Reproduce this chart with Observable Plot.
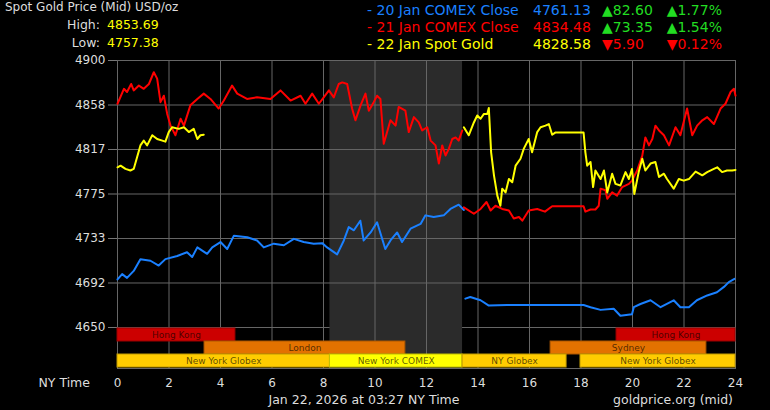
<!DOCTYPE html>
<html><head><meta charset="utf-8">
<script src="https://cdn.jsdelivr.net/npm/d3@7"></script>
<script src="https://cdn.jsdelivr.net/npm/@observablehq/plot@0.6"></script>
<style>
html,body{margin:0;padding:0;background:#000;}
#wrap{position:relative;width:770px;height:410px;background:#000;overflow:hidden;font-family:"DejaVu Sans",sans-serif;color:#ddd;font-size:12px;}
.t{position:absolute;white-space:nowrap;line-height:16px;height:16px;}
#wrap svg{position:absolute;left:0;}
</style></head><body><div id="wrap"></div>
<script>
// ---------- data ----------
const title = "Spot Gold Price (Mid) USD/oz";
const highLowLabels = ["High:", "Low:"];
const highLowValues = ["4853.69", "4757.38"];
const legendLabels = ["- 20 Jan COMEX Close", "- 21 Jan COMEX Close", "- 22 Jan Spot Gold"];
const legendPrices = ["4761.13", "4834.48", "4828.58"];
const legendChanges = ["▲82.60", "▲73.35", "▼5.90"];
const legendPercents = ["▲1.77%", "▲1.54%", "▼0.12%"];
const footerDate = "Jan 22, 2026 at 03:27 NY Time";
const footerSource = "goldprice.org (mid)";
const xAxisTitle = "NY Time";

const xTicks = [0, 2, 4, 6, 8, 10, 12, 14, 16, 18, 20, 22, 24];
const yTicks = [4650, 4691.67, 4733.33, 4775, 4816.67, 4858.33, 4900];
const yTickLabels = ["4650", "4692", "4733", "4775", "4817", "4858", "4900"];

// [NY hour, price]
const jan20Before = [[0,4695],[0.18,4700],[0.37,4696.5],[0.63,4703],[0.89,4714],[1.28,4712.5],[1.6,4708],[1.86,4714],[2.32,4717],[2.7,4720.5],[2.9,4716],[3.1,4725],[3.48,4719],[3.68,4725],[4.0,4730],[4.26,4723.5],[4.52,4736],[5.04,4734.5],[5.42,4731.5],[5.68,4725],[6.07,4728.5],[6.46,4727],[6.85,4733],[7.23,4730],[7.62,4728.5],[7.95,4729],[8.14,4725],[8.53,4718.5],[8.79,4731.5],[8.98,4744],[9.18,4741],[9.43,4750],[9.56,4731.5],[9.83,4739],[10.08,4748.5],[10.4,4723.5],[10.6,4731.5],[10.86,4739],[11.05,4730],[11.38,4742.5],[11.77,4747],[11.96,4755],[12.28,4753.5],[12.67,4755],[12.93,4761],[13.25,4765],[13.45,4760]];
const jan20After = [[13.51,4677],[13.7,4678.5],[14.1,4675.5],[14.42,4670.5],[15.13,4671],[18.1,4671],[18.37,4669],[18.76,4666.5],[19.27,4667.5],[19.53,4661],[19.98,4662.5],[20.05,4669],[20.31,4672],[20.7,4675.5],[21.09,4669],[21.6,4675.5],[21.86,4669],[22.19,4669],[22.5,4675.5],[22.9,4680],[23.28,4683],[23.55,4688],[23.74,4692.5],[23.96,4695.5]];
const jan21Before = [[0,4859.5],[0.25,4873.5],[0.37,4870.5],[0.53,4878],[0.63,4872],[0.83,4876.5],[1.02,4873.5],[1.22,4878],[1.41,4889],[1.54,4883],[1.67,4861],[1.8,4867],[1.93,4850],[2.06,4839],[2.25,4830],[2.45,4845.5],[2.58,4839],[2.83,4858],[3.1,4864],[3.35,4869],[3.61,4864],[3.93,4855],[4.13,4862.5],[4.45,4876.5],[4.65,4869],[5.03,4864],[5.42,4865.5],[5.94,4864],[6.33,4872],[6.72,4862.5],[7.11,4867],[7.3,4859.5],[7.56,4869],[7.82,4859.5],[8.01,4865.5],[8.21,4872],[8.4,4865.5],[8.59,4878],[8.73,4879.5],[8.92,4878],[9.11,4855],[9.24,4844],[9.44,4858],[9.63,4869],[9.76,4853],[9.95,4861],[10.08,4867],[10.21,4864],[10.34,4822],[10.6,4844],[10.8,4839],[10.92,4856.5],[11.18,4853],[11.31,4833],[11.51,4847],[11.7,4842],[11.83,4834.5],[12.03,4837.5],[12.16,4825],[12.35,4820.5],[12.48,4803.5],[12.61,4820.5],[12.74,4811],[12.87,4817.5],[13.0,4826.5],[13.13,4828],[13.25,4825],[13.39,4834.5]];
const jan21After = [[13.45,4762.5],[13.84,4756.5],[14.1,4761],[14.33,4767.5],[14.49,4759.5],[14.68,4764],[14.94,4761],[15.2,4759.5],[15.39,4752],[15.59,4753.5],[15.72,4750],[15.97,4759.5],[16.3,4761],[16.6,4758.5],[16.88,4763.5],[18.1,4763.5],[18.17,4758.5],[18.37,4760.5],[18.56,4760.5],[18.69,4764],[18.76,4780],[18.95,4778.5],[19.02,4770.5],[19.21,4776.5],[19.4,4773.5],[19.6,4781.5],[19.86,4784.5],[19.98,4787.5],[20.18,4797],[20.38,4811],[20.5,4828],[20.64,4820.5],[20.77,4826.5],[20.89,4839],[21.03,4834.5],[21.22,4830],[21.42,4820.5],[21.67,4837.5],[21.86,4830],[22.12,4855],[22.32,4830],[22.51,4839],[22.71,4844],[22.9,4847],[23.16,4840.5],[23.42,4855],[23.61,4859.5],[23.81,4870.5],[23.94,4873.5],[24,4867]];
const jan22Spot = [[0,4800],[0.12,4801.5],[0.31,4798.5],[0.5,4797],[0.63,4798.5],[0.76,4809.5],[0.89,4820.5],[1.02,4825],[1.15,4820.5],[1.35,4830],[1.54,4826.5],[1.74,4825],[1.86,4824],[1.99,4833],[2.12,4837.5],[2.38,4836],[2.58,4837.5],[2.77,4833],[2.96,4836],[3.1,4826.5],[3.22,4830],[3.35,4830.5]];
const jan21Spot = [[13.45,4837.5],[13.64,4830],[13.84,4842],[13.97,4848.5],[14.1,4845.5],[14.23,4850],[14.36,4850],[14.42,4855.5],[14.51,4814],[14.62,4792.5],[14.75,4773.5],[14.87,4764],[14.94,4780],[15.07,4776.5],[15.2,4789],[15.33,4786],[15.46,4801.5],[15.65,4808],[15.78,4817.5],[15.97,4826.5],[16.1,4814],[16.3,4833],[16.43,4837.5],[16.62,4839],[16.75,4840.5],[16.88,4830.5],[17.0,4832.5],[18.1,4832.5],[18.17,4814],[18.24,4801.5],[18.37,4805],[18.47,4781.5],[18.56,4797],[18.76,4789],[18.89,4797],[19.02,4776.5],[19.21,4794],[19.34,4784.5],[19.53,4783],[19.73,4795.5],[19.86,4789],[19.98,4798.5],[20.07,4775],[20.24,4795.5],[20.38,4808],[20.5,4797],[20.7,4803.5],[20.89,4805],[21.03,4791],[21.22,4794],[21.34,4789],[21.6,4780],[21.8,4789],[21.99,4787.5],[22.19,4789],[22.45,4796],[22.71,4792.5],[22.9,4795.5],[23.16,4798.5],[23.29,4800],[23.48,4795.5],[23.67,4797],[23.87,4797],[24,4797.5]];

// trading sessions (NY hours)
const sessionNames  = ["Hong Kong","Hong Kong","London","Sydney","New York Globex","New York COMEX","NY Globex","New York Globex"];
const sessionRows   = ["Asia","Asia","Europe/Pacific","Europe/Pacific","America","America","America","America"];
const sessionStarts = [0, 19.38, 3.38, 16.82, 0, 8.25, 13.4, 17.98];
const sessionEnds   = [4.58, 24, 11.18, 22.87, 8.25, 13.4, 17.44, 24];
const sessionRowOrder = ["Asia","Europe/Pacific","America"];
const comexSession = [{start: 8.25, end: 13.4}];

// ---------- styles ----------
const BLUE = "#1a80ff", RED = "#ff0000", YELLOW = "#ffff00", GREEN = "#22dd22", TXT = "#dddddd";
const sessionColors = {"Hong Kong":"#cc0000","London":"#e37200","Sydney":"#e37200","New York Globex":"#ffcc00","NY Globex":"#ffcc00","New York COMEX":"#ffff00"};
const FONT = '"DejaVu Sans",sans-serif';

// ---------- build ----------
const series = [
  {data: jan20Before, color: BLUE}, {data: jan20After, color: BLUE},
  {data: jan21Before, color: RED}, {data: jan21After, color: RED},
  {data: jan21Spot, color: YELLOW}, {data: jan22Spot, color: YELLOW}
];
const points = series.flatMap((s, k) => s.data.map(([h, p]) => ({hour: h, price: p, seg: k, color: s.color})));
const sessions = sessionNames.map((n, i) => ({
  name: n, row: sessionRows[i], start: sessionStarts[i], end: sessionEnds[i],
  fill: sessionColors[n], edge: d3.color(sessionColors[n]).darker(0.8).formatHex()
}));

const wrap = document.getElementById("wrap");

const main = Plot.plot({
  width: 770, height: 340,
  marginTop: 60, marginBottom: 13, marginLeft: 117, marginRight: 35,
  style: {background: "transparent", color: TXT, fontSize: "12px", fontFamily: FONT},
  x: {domain: [0, 24], axis: null},
  y: {domain: [4650, 4900], axis: null},
  marks: [
    Plot.rect(comexSession, {x1: "start", x2: "end", fill: "#2b2b2b"}),
    Plot.gridX(xTicks, {stroke: "#666", strokeOpacity: 1}),
    Plot.gridY(yTicks, {stroke: "#666", strokeOpacity: 1}),
    Plot.axisY(yTicks, {tickFormat: (d, i) => yTickLabels[i], tickSize: 9, tickPadding: 3, stroke: "#777", fill: TXT, label: null}),
    Plot.line(points, {x: "hour", y: "price", z: "seg", stroke: "color", strokeWidth: 2, curve: "linear"})
  ]
});
main.style.top = "0px";
wrap.appendChild(main);

const bands = Plot.plot({
  width: 770, height: 83,
  marginTop: 0, marginBottom: 42, marginLeft: 117, marginRight: 35,
  style: {background: "transparent", color: TXT, fontSize: "12px", fontFamily: FONT},
  x: {domain: [0, 24], axis: null},
  y: {domain: sessionRowOrder, axis: null, padding: 0},
  marks: [
    Plot.rect(comexSession, {x1: "start", x2: "end", fill: "#2b2b2b"}),
    Plot.gridX(xTicks, {stroke: "#666", strokeOpacity: 1}),
    Plot.frame({anchor: "bottom", stroke: "#666"}),
    Plot.barX(sessions, {x1: "start", x2: "end", y: "row", fill: "fill", stroke: "edge", strokeWidth: 1}),
    Plot.text(sessions, {x: d => (d.start + d.end) / 2, y: "row", text: "name", fill: "#000", fillOpacity: 0.65, fontSize: 9}),
    Plot.axisX(xTicks, {tickSize: 0, tickPadding: 10, fill: TXT, label: null})
  ]
});
bands.style.top = "327px";
wrap.appendChild(bands);

// ---------- html texts ----------
function addText(txt, css) {
  const d = document.createElement("div");
  d.className = "t";
  d.textContent = txt;
  Object.assign(d.style, css);
  wrap.appendChild(d);
  return d;
}
addText(title, {left: "5px", top: "-1px", color: TXT, fontSize: "12px"});
highLowLabels.forEach((l, i) => {
  addText(l, {right: (770 - 100) + "px", top: (17 + i * 17.5) + "px", color: TXT, fontSize: "12.5px"});
  addText(highLowValues[i], {left: "107px", top: (17 + i * 17.5) + "px", color: YELLOW, fontSize: "12.5px"});
});
const legendColors = [BLUE, RED, YELLOW];
legendLabels.forEach((l, i) => {
  const top = (1.5 + i * 17) + "px";
  const up = legendChanges[i].startsWith("▲");
  const css = {top, fontSize: "14px"};
  addText(l, {...css, left: "367px", color: legendColors[i]});
  addText(legendPrices[i], {...css, left: "533px", color: legendColors[i]});
  addText(legendChanges[i], {...css, left: "602px", color: up ? GREEN : RED});
  addText(legendPercents[i], {...css, right: (770 - 722) + "px", color: up ? GREEN : RED});
});
addText(xAxisTitle, {right: (770 - 90) + "px", top: "375px", color: TXT, fontSize: "12.5px"});
addText(footerDate, {left: "214px", width: "300px", textAlign: "center", top: "392px", color: TXT, fontSize: "12.5px"});
addText(footerSource, {right: (770 - 733) + "px", top: "392px", color: TXT, fontSize: "12.5px"});
</script>
</body></html>
